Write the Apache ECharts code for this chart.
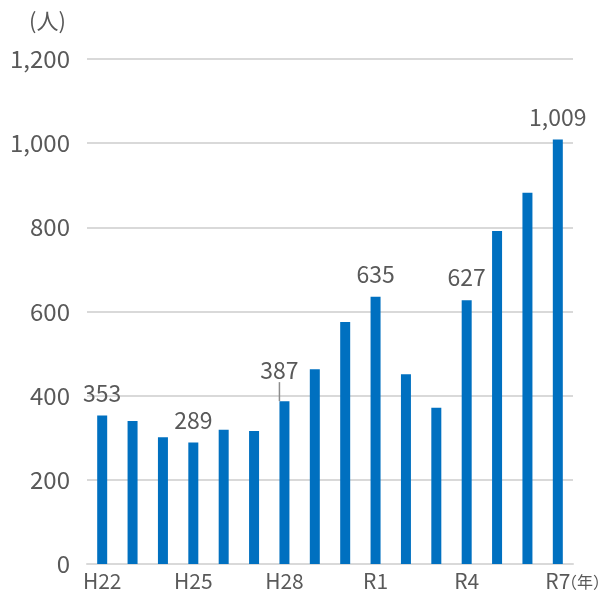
<!DOCTYPE html>
<html>
<head>
<meta charset="utf-8">
<script src="https://cdn.jsdelivr.net/npm/echarts@6/dist/echarts.min.js"></script>
<style>html,body{margin:0;padding:0;background:#fff}#c{width:605px;height:594px}</style>
</head>
<body>
<div id="c"></div>
<script>
var categories = ['H22','H23','H24','H25','H26','H27','H28','H29','H30','R1','R2','R3','R4','R5','R6','R7'];
var values = [353, 340, 301, 289, 319, 316, 387, 463, 575, 635, 451, 371, 627, 791, 882, 1009];
var labeledIndices = [0, 3, 6, 9, 12, 15];
var yTicks = [0, 200, 400, 600, 800, 1000, 1200];

var FONT = '"Noto Sans CJK JP", "Noto Sans", sans-serif';
var TXT = '#595959';

var chart = echarts.init(document.getElementById('c'), null, {renderer: 'canvas'});
var seriesData = values.map(function (v, i) {
  var item = {value: v};
  if (labeledIndices.indexOf(i) >= 0) {
    item.label = {show: true};
    if (categories[i] === 'H28') {
      item.labelLine = {show: true, lineStyle: {color: '#8c8c8c', width: 1.5}};
    }
  }
  return item;
});

chart.setOption({
  animation: false,
  backgroundColor: '#fff',
  grid: {left: 87, right: 32, top: 59, bottom: 30, containLabel: false},
  xAxis: {
    type: 'category',
    data: categories,
    axisTick: {show: false},
    axisLine: {lineStyle: {color: '#d9d9d9', width: 2}},
    axisLabel: {interval: 2, color: TXT, fontSize: 21, fontFamily: FONT, margin: 7}
  },
  yAxis: {
    type: 'value',
    min: yTicks[0],
    max: yTicks[yTicks.length - 1],
    interval: 200,
    axisLine: {show: false},
    axisTick: {show: false},
    splitLine: {lineStyle: {color: '#d9d9d9', width: 2}},
    axisLabel: {
      color: TXT, fontSize: 24, fontFamily: FONT, margin: 17,
      formatter: function (v) { return v.toLocaleString('en-US'); }
    }
  },
  graphic: [
    {type: 'text', left: 29, top: 10, style: {text: '(人)', fill: TXT, font: '22px ' + FONT}},
    {type: 'text', left: 561, top: 574, style: {text: '（年）', fill: TXT, font: '16px ' + FONT}}
  ],
  series: [{
    type: 'bar',
    data: seriesData,
    barWidth: 10,
    itemStyle: {color: '#0070C0'},
    labelLine: {show: false, lineStyle: {color: '#8c8c8c', width: 1.5}},
    labelLayout: function (params) {
      if (params.dataIndex === 6) {
        return {dx: -5, dy: -8};
      }
      return {};
    },
    label: {
      show: false,
      position: 'top',
      distance: 11,
      color: TXT,
      fontSize: 23,
      fontFamily: FONT,
      formatter: function (p) { return p.value.toLocaleString('en-US'); }
    }
  }]
});
</script>
</body>
</html>
